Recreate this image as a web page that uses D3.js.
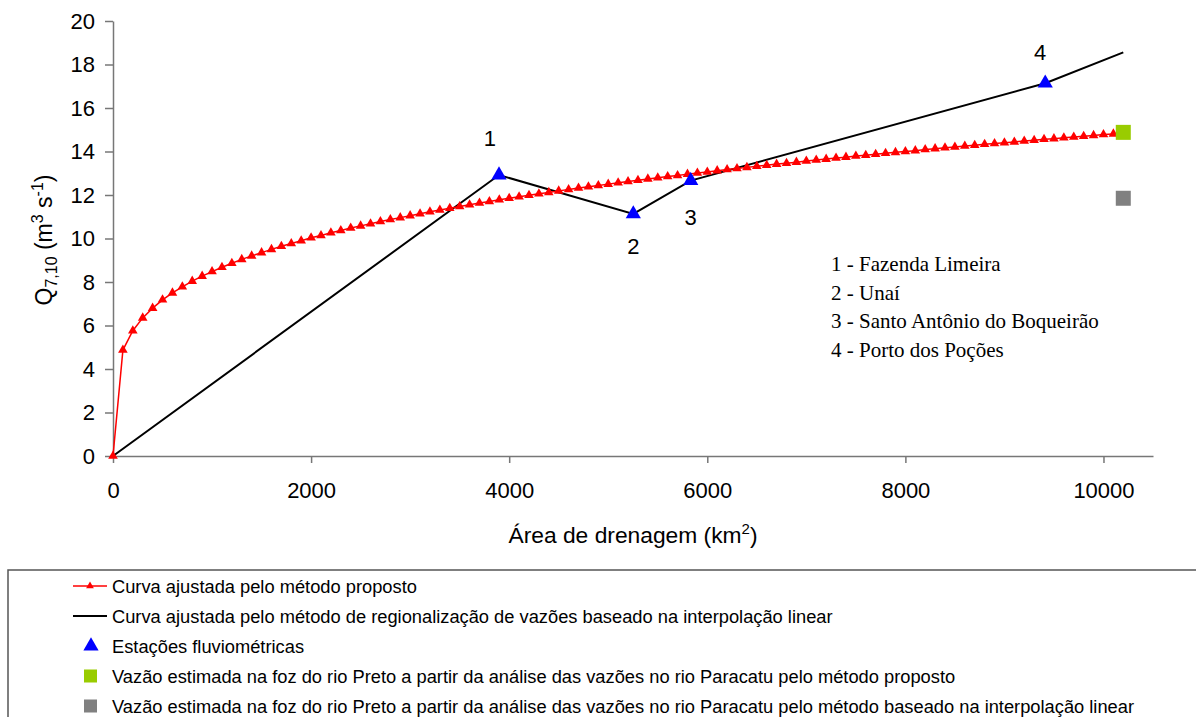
<!DOCTYPE html>
<html><head><meta charset="utf-8">
<script src="https://cdn.jsdelivr.net/npm/d3@7"></script>
<style>body{margin:0;background:#fff}</style>
</head><body>
<svg id="c" width="1196" height="717"></svg>
<script>
// ---- data ----
const propAreas = [0,100,200,300,400,500,600,700,800,900,1000,1100,1200,1300,1400,1500,1600,1700,1800,1900,2000,2100,2200,2300,2400,2500,2600,2700,2800,2900,3000,3100,3200,3300,3400,3500,3600,3700,3800,3900,4000,4100,4200,4300,4400,4500,4600,4700,4800,4900,5000,5100,5200,5300,5400,5500,5600,5700,5800,5900,6000,6100,6200,6300,6400,6500,6600,6700,6800,6900,7000,7100,7200,7300,7400,7500,7600,7700,7800,7900,8000,8100,8200,8300,8400,8500,8600,8700,8800,8900,9000,9100,9200,9300,9400,9500,9600,9700,9800,9900,10000,10100,10200];
const propQ = [0,4.87,5.76,6.35,6.80,7.18,7.50,7.78,8.04,8.27,8.48,8.68,8.86,9.04,9.20,9.35,9.50,9.64,9.77,9.90,10.03,10.14,10.26,10.37,10.48,10.58,10.68,10.78,10.87,10.96,11.05,11.14,11.23,11.31,11.39,11.47,11.55,11.63,11.70,11.78,11.85,11.92,11.99,12.06,12.12,12.19,12.25,12.32,12.38,12.44,12.50,12.56,12.62,12.68,12.74,12.79,12.85,12.90,12.96,13.01,13.06,13.12,13.17,13.22,13.27,13.32,13.37,13.42,13.46,13.51,13.56,13.61,13.65,13.70,13.74,13.79,13.83,13.87,13.92,13.96,14.00,14.04,14.09,14.13,14.17,14.21,14.25,14.29,14.33,14.37,14.40,14.44,14.48,14.52,14.56,14.59,14.63,14.67,14.70,14.74,14.78,14.81,14.85];
const linAreas = [0,3897,5253,5833,9412,10200];
const linQ = [0,12.92,11.13,12.66,17.14,18.56];
const stationAreas = [3897,5253,5833,9412];
const stationQ = [12.92,11.13,12.66,17.14];
const stationLabels = ["1","2","3","4"];
const outletArea = 10200;
const outletQProposed = 14.88;
const outletQLinear = 11.85;
const stationNames = ["1 - Fazenda Limeira","2 - Unaí","3 - Santo Antônio do Boqueirão","4 - Porto dos Poções"];
const xTicks = [0,2000,4000,6000,8000,10000];
const yTicks = [0,2,4,6,8,10,12,14,16,18,20];
const legendLabels = [
 "Curva ajustada pelo método proposto",
 "Curva ajustada pelo método de regionalização de vazões baseado na interpolação linear",
 "Estações fluviométricas",
 "Vazão estimada na foz do rio Preto a partir da análise das vazões no rio Paracatu pelo método proposto",
 "Vazão estimada na foz do rio Preto a partir da análise das vazões no rio Paracatu pelo método baseado na interpolação linear"
];

// ---- drawing ----
const svg = d3.select("#c");
const SANS = "'Liberation Sans', Arial, sans-serif";
const SERIF = "'Liberation Serif', 'Times New Roman', serif";
const x = d3.scaleLinear().domain([0,10500]).range([113,1153]);
const y = d3.scaleLinear().domain([0,20]).range([456,21]);

const axisColor = "#777";
const gx = svg.append("g").attr("transform","translate(0,456)")
  .call(d3.axisBottom(x).tickValues(xTicks).tickSize(7).tickPadding(19).tickSizeOuter(0).tickFormat(d3.format("d")));
const gy = svg.append("g").attr("transform","translate(113,0)")
  .call(d3.axisLeft(y).tickValues(yTicks).tickSize(8).tickPadding(10).tickSizeOuter(0).tickFormat(d3.format("d")));
[gx,gy].forEach(g=>{
  g.select(".domain").attr("stroke",axisColor).attr("stroke-width",1.5);
  g.selectAll(".tick line").attr("stroke",axisColor).attr("stroke-width",1.5);
  g.selectAll(".tick text").attr("fill","#000").style("font-family",SANS).style("font-size","22px");
});

// axis titles
const xt = svg.append("text").attr("x",633).attr("y",543).attr("text-anchor","middle")
  .style("font-family",SANS).style("font-size","22.8px").attr("fill","#000");
xt.append("tspan").text("Área de drenagem (km");
xt.append("tspan").attr("dy",-9).style("font-size","15px").text("2");
xt.append("tspan").attr("dy",9).text(")");

const yt = svg.append("text").attr("transform","translate(52,240) rotate(-90)").attr("text-anchor","middle")
  .style("font-family",SANS).style("font-size","23px").attr("fill","#000");
yt.append("tspan").text("Q");
yt.append("tspan").attr("dy",5).style("font-size","16px").text("7,10");
yt.append("tspan").attr("dy",-5).text(" (m");
yt.append("tspan").attr("dy",-9).style("font-size","16px").text("3");
yt.append("tspan").attr("dy",9).text(" s");
yt.append("tspan").attr("dy",-9).style("font-size","16px").text("-1");
yt.append("tspan").attr("dy",9).text(")");

// black interpolation line
const linPts = linAreas.map((a,i)=>[a,linQ[i]]);
svg.append("path").datum(linPts)
  .attr("d", d3.line().x(d=>x(d[0])).y(d=>y(d[1])))
  .attr("fill","none").attr("stroke","#000").attr("stroke-width",2);

// red proposed curve
const propPts = propAreas.map((a,i)=>[a,propQ[i]]);
svg.append("path").datum(propPts)
  .attr("d", d3.line().x(d=>x(d[0])).y(d=>y(d[1])))
  .attr("fill","none").attr("stroke","#ff0000").attr("stroke-width",1.5);
const triSmall = d3.symbol().type(d3.symbolTriangle).size(40);
svg.append("g").selectAll("path").data(propPts).join("path")
  .attr("d",triSmall).attr("transform",d=>`translate(${x(d[0])},${y(d[1])})`).attr("fill","#ff0000");

// stations
const triBig = d3.symbol().type(d3.symbolTriangle).size(100);
const stPts = stationAreas.map((a,i)=>[a,stationQ[i],stationLabels[i]]);
svg.append("g").selectAll("path").data(stPts).join("path")
  .attr("d",triBig).attr("transform",d=>`translate(${x(d[0])},${y(d[1])})`).attr("fill","#0000ff");
const labOff = [[-9,-29],[0,40],[0,44],[-5,-23]];
svg.append("g").selectAll("text").data(stPts).join("text")
  .attr("x",(d,i)=>x(d[0])+labOff[i][0]).attr("y",(d,i)=>y(d[1])+labOff[i][1])
  .attr("text-anchor","middle").style("font-family",SANS).style("font-size","22px").text(d=>d[2]);

// outlet squares
const sq = 15;
svg.append("rect").attr("x",x(outletArea)-sq/2).attr("y",y(outletQProposed)-sq/2).attr("width",sq).attr("height",sq).attr("fill","#99cc00");
svg.append("rect").attr("x",x(outletArea)-sq/2).attr("y",y(outletQLinear)-sq/2).attr("width",sq).attr("height",sq).attr("fill","#808080");

// station name annotation
svg.append("g").selectAll("text").data(stationNames).join("text")
  .attr("x",831).attr("y",(d,i)=>271+i*28.7)
  .style("font-family",SERIF).style("font-size","21px").attr("fill","#000").text(d=>d);

// legend box
svg.append("rect").attr("x",8).attr("y",570).attr("width",1200).attr("height",160)
  .attr("fill","none").attr("stroke","#555").attr("stroke-width",1.5);
const lg = svg.append("g");
const rowY = i => 586 + i*30;
legendLabels.forEach((t,i)=>{
  lg.append("text").attr("x",112).attr("y",rowY(i)+6.5).style("font-family",SANS).style("font-size","18.3px").attr("fill","#000").text(t);
});
lg.append("line").attr("x1",73).attr("x2",107).attr("y1",rowY(0)).attr("y2",rowY(0)).attr("stroke","#ff0000").attr("stroke-width",1.5);
lg.append("path").attr("d",d3.symbol().type(d3.symbolTriangle).size(26)).attr("transform",`translate(90,${rowY(0)})`).attr("fill","#ff0000");
lg.append("line").attr("x1",73).attr("x2",107).attr("y1",rowY(1)).attr("y2",rowY(1)).attr("stroke","#000").attr("stroke-width",2);
lg.append("path").attr("d",triBig).attr("transform",`translate(91,${rowY(2)})`).attr("fill","#0000ff");
lg.append("rect").attr("x",84).attr("y",rowY(3)-6.5).attr("width",13).attr("height",13).attr("fill","#99cc00");
lg.append("rect").attr("x",84).attr("y",rowY(4)-6.5).attr("width",13).attr("height",13).attr("fill","#808080");
</script>
</body></html>
